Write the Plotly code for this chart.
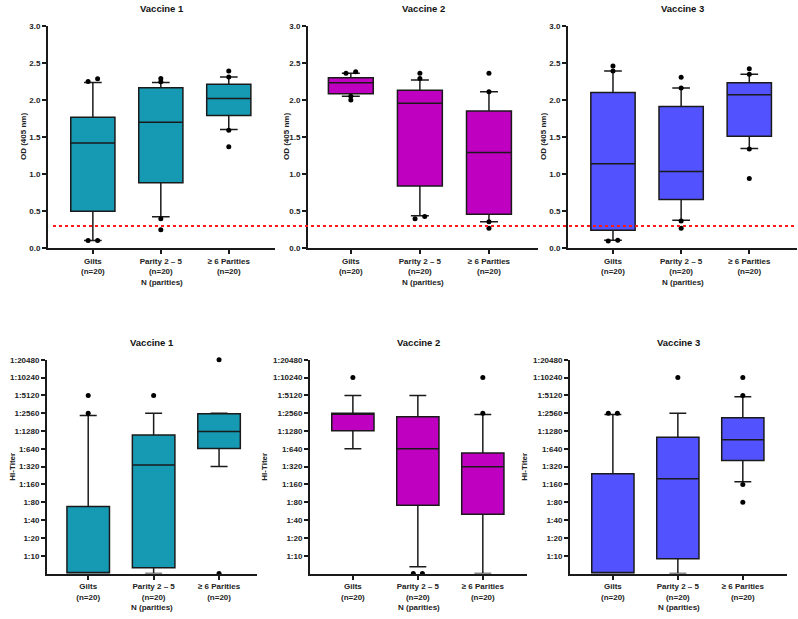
import numpy as np
import plotly.graph_objects as go

categories = ["Gilts<br>(n=20)", "Parity 2 – 5<br>(n=20)", "≥ 6 Parities<br>(n=20)"]
titles = ["Vaccine 1", "Vaccine 2", "Vaccine 3"]
colors = ["#1699B3", "#C000C0", "#5252FF"]

# ---- OD (405 nm) ----
od_q1 = [[0.50, 0.885, 1.79], [2.084, 0.84, 0.46], [0.243, 0.66, 1.51]]
od_median = [[1.42, 1.70, 2.02], [2.23, 1.956, 1.29], [1.14, 1.035, 2.07]]
od_q3 = [[1.765, 2.164, 2.21], [2.30, 2.13, 1.85], [2.10, 1.91, 2.23]]
od_low = [[0.106, 0.425, 1.60], [2.05, 0.44, 0.36], [0.11, 0.38, 1.345]]
od_high = [[2.235, 2.235, 2.31], [2.36, 2.27, 2.11], [2.39, 2.16, 2.345]]
od_points = [
    [[2.25, 2.285, 0.106, 0.106], [2.29, 2.245, 0.40, 0.25], [2.39, 2.31, 1.59, 1.37]],
    [[2.36, 2.38, 2.05, 2.00], [2.36, 2.29, 0.40, 0.43], [2.36, 2.11, 0.36, 0.27]],
    [[2.456, 2.39, 0.10, 0.11], [2.305, 2.16, 0.37, 0.27], [2.42, 2.345, 1.34, 0.94]],
]
od_cutoff = 0.3

# ---- HI titer (reciprocal); 5 = below 1:10 ----
hi_q1 = [[5, 6.3, 650], [1300, 71, 50.3], [5, 8.9, 408]]
hi_median = [[5, 343, 1262], [2560, 640, 320], [5, 200, 911]]
hi_q3 = [[67.7, 1098, 2520], [2560, 2228, 546], [242, 1010, 2140]]
hi_low = [[5, 5, 322], [640, 6.5, 5], [5, 5, 178]]
hi_high = [[2336, 2560, 2560], [5120, 5120, 2436], [2436, 2560, 4850]]
hi_points = [
    [[2560, 5120], [5120], [20480, 5]],
    [[10240], [5, 5], [10240, 2560]],
    [[2560, 2560], [10240], [10240, 5120, 160, 80]],
]
hi_ticks = [10, 20, 40, 80, 160, 320, 640, 1280, 2560, 5120, 10240, 20480]
hi_ticktext = ["1:%d" % t for t in hi_ticks]

W, H = 798, 619
FONT = "Liberation Sans, Arial, sans-serif"

# panel pixel geometry (x0, x1, ytop, ybottom) and x ranges
top_px = [(48, 275), (308, 538), (568, 797)]
top_xr = [[-0.66, 2.68], [-0.62, 2.71], [-0.66, 2.70]]
bot_px = [(47, 257), (310, 527), (570, 787)]
bot_xr = [[-0.63, 2.58], [-0.66, 2.68], [-0.66, 2.68]]
top_y = (22, 248)
bot_y = (361, 578)


def px2fx(p):
    return p / W


def px2fy(p):
    return 1 - p / H


def spread(vals, tol, transform):
    """horizontal offsets for points that nearly coincide"""
    offs = [0.0] * len(vals)
    t = [transform(v) for v in vals]
    used = set()
    for i in range(len(vals)):
        if i in used:
            continue
        grp = [i]
        for j in range(i + 1, len(vals)):
            if j not in used and abs(t[j] - t[i]) < tol:
                grp.append(j)
        if len(grp) > 1:
            n = len(grp)
            for k, idx in enumerate(grp):
                offs[idx] = (k - (n - 1) / 2) * 0.14
                used.add(idx)
    return offs


fig = go.Figure()
layout = dict(
    width=W, height=H, margin=dict(l=0, r=0, t=0, b=0),
    paper_bgcolor="white", plot_bgcolor="white", showlegend=False,
    font=dict(family=FONT, size=8, color="#222"),
)
annotations = []
shapes = []

xs = [0, 1, 2]


def add_panel(idx, q1, med, q3, lo, hi, pts, color, tol, transform):
    ax = "" if idx == 1 else str(idx)
    for c in range(3):
        fig.add_trace(go.Box(
            x=[xs[c]], q1=[q1[c]], median=[med[c]], q3=[q3[c]],
            lowerfence=[lo[c]], upperfence=[hi[c]],
            width=0.65, whiskerwidth=0.4, fillcolor=color,
            line=dict(color="#1a1a1a", width=1.5), boxpoints=False,
            xaxis="x" + ax, yaxis="y" + ax, hoverinfo="skip",
        ))
        p = pts[c]
        offs = spread(p, tol, transform)
        fig.add_trace(go.Scatter(
            x=[xs[c] + o for o in offs], y=p, mode="markers",
            marker=dict(color="black", size=5), cliponaxis=False,
            xaxis="x" + ax, yaxis="y" + ax, hoverinfo="skip",
        ))


for i in range(3):
    add_panel(i + 1, od_q1[i], od_median[i], od_q3[i], od_low[i], od_high[i],
              od_points[i], colors[i], 0.04, lambda v: v)
    add_panel(i + 4, hi_q1[i], hi_median[i], hi_q3[i], hi_low[i], hi_high[i],
              hi_points[i], colors[i], 0.1, np.log2)

axis_common = dict(
    showgrid=False, zeroline=False, showline=True, linecolor="#1a1a1a",
    linewidth=2, ticks="outside", ticklen=4, tickwidth=1.5, tickcolor="#1a1a1a",
    tickfont=dict(family=FONT, size=8, color="#222"),
)

for i in range(6):
    n = i + 1
    ax = "" if n == 1 else str(n)
    top = i < 3
    j = i % 3
    x0, x1 = (top_px if top else bot_px)[j]
    yt, yb = top_y if top else bot_y
    layout["xaxis" + ax] = dict(
        axis_common, domain=[px2fx(x0), px2fx(x1)],
        range=(top_xr if top else bot_xr)[j], anchor="y" + ax,
        tickmode="array", tickvals=xs,
        ticktext=["<b>%s</b>" % t for t in categories],
    )
    if top:
        layout["yaxis" + ax] = dict(
            axis_common, domain=[px2fy(yb), px2fy(yt)], range=[-0.0005, 3.0005],
            anchor="x" + ax, tickmode="array",
            tickvals=[0, 0.5, 1, 1.5, 2, 2.5, 3],
            ticktext=["<b>%.1f</b>" % v for v in [0, 0.5, 1, 1.5, 2, 2.5, 3]],
        )
    else:
        layout["yaxis" + ax] = dict(
            axis_common, domain=[px2fy(yb), px2fy(yt)], type="log",
            range=[np.log10(4.995), np.log10(20500)], anchor="x" + ax,
            tickmode="array", tickvals=hi_ticks,
            ticktext=["<b>%s</b>" % t for t in hi_ticktext],
        )
    cx = px2fx((x0 + x1) / 2)
    # panel title
    annotations.append(dict(
        text="<b>%s</b>" % titles[j], x=cx, y=px2fy(5 if top else 344),
        xref="paper", yref="paper", showarrow=False, xanchor="center",
        yanchor="middle", font=dict(family=FONT, size=9.5, color="#111"),
    ))
    # x axis title
    annotations.append(dict(
        text="<b>N (parities)</b>", x=cx, y=px2fy(283 if top else 612),
        xref="paper", yref="paper", showarrow=False, xanchor="center",
        yanchor="middle", font=dict(family=FONT, size=8, color="#222"),
    ))
    # y axis title
    ylab_x = [23, 286, 543] if top else [13, 265, 525]
    annotations.append(dict(
        text="<b>%s</b>" % ("OD (405 nm)" if top else "HI-Titer"),
        x=px2fx(ylab_x[j]), y=px2fy((yt + yb) / 2), xref="paper",
        yref="paper", showarrow=False, textangle=-90, xanchor="center",
        yanchor="middle", font=dict(family=FONT, size=8, color="#222"),
    ))

# red dotted cut-off line across the top row
shapes.append(dict(
    type="line", xref="paper", yref="y", x0=px2fx(53), x1=px2fx(796),
    y0=od_cutoff, y1=od_cutoff, line=dict(color="#FF1A1A", width=2, dash="dot"),
    layer="above",
))

layout["annotations"] = annotations
layout["shapes"] = shapes
fig.update_layout(**layout)
fig.write_html("out.html")
